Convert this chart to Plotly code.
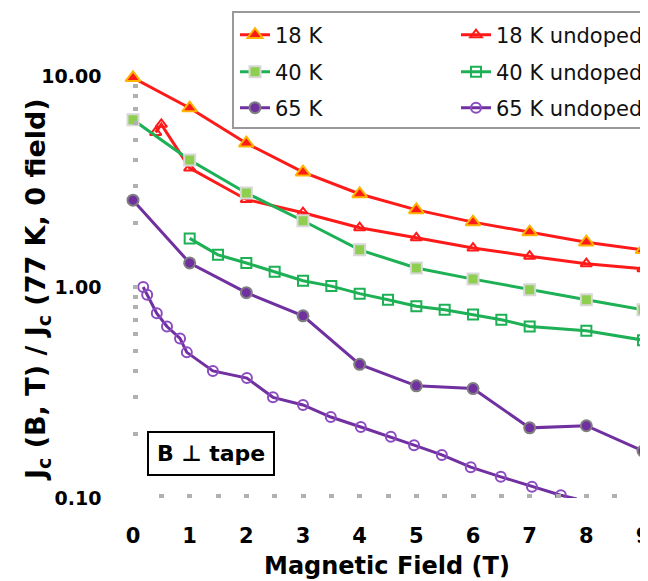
import plotly.graph_objects as go

# ---------------- data ----------------
field_int = [0, 1, 2, 3, 4, 5, 6, 7, 8, 9]

k18 = [9.8, 7.05, 4.8, 3.5, 2.76, 2.32, 2.03, 1.82, 1.63, 1.50]
k40 = [6.2, 4.0, 2.79, 2.06, 1.50, 1.23, 1.09, 0.97, 0.87, 0.78]
k65 = [2.58, 1.30, 0.94, 0.73, 0.43, 0.34, 0.33, 0.215, 0.22, 0.167]

k18u_x = [0.4, 0.5, 1, 2, 3, 4, 5, 6, 7, 8, 9]
k18u_y = [5.4, 5.9, 3.66, 2.6, 2.25, 1.91, 1.71, 1.53, 1.40, 1.29, 1.22]

k40u_x = [1.0, 1.5, 2.0, 2.5, 3.0, 3.5, 4.0, 4.5, 5.0, 5.5, 6.0, 6.5, 7.0, 8.0, 9.0]
k40u_y = [1.70, 1.42, 1.30, 1.18, 1.07, 1.01, 0.93, 0.87, 0.81, 0.78, 0.74, 0.70, 0.65, 0.62, 0.56]

k65u_x = [0.18, 0.25, 0.42, 0.60, 0.83, 0.95, 1.41, 2.01, 2.47, 3.0, 3.49, 4.02,
          4.55, 4.96, 5.45, 5.96, 6.49, 7.04, 7.55, 7.83]
k65u_y = [1.0, 0.92, 0.75, 0.65, 0.57, 0.49, 0.40, 0.37, 0.30, 0.276, 0.242, 0.217,
          0.195, 0.178, 0.160, 0.140, 0.126, 0.113, 0.103, 0.099]

names = ["18 K", "18 K undoped", "40 K", "40 K undoped", "65 K", "65 K undoped"]
x_title = "Magnetic Field (T)"
y_title = "J<sub>c</sub> (B, T) / J<sub>c</sub> (77 K, 0 field)"
box_label = "B \u22a5 tape"

RED = "#FF1A1A"
ORANGE = "#FFB300"
GREEN = "#1DB054"
LGREEN = "#8FCF50"
PURPLE = "#7030A0"
PURPLE_L = "#8A4CC0"
FONT = "DejaVu Sans"

fig = go.Figure()

fig.add_trace(go.Scatter(x=field_int, y=k18, name=names[0], mode="lines+markers",
    line=dict(color=RED, width=3),
    marker=dict(symbol="triangle-up", size=13, color=RED, line=dict(color=ORANGE, width=2)),
    cliponaxis=False, legend="legend"))
fig.add_trace(go.Scatter(x=k18u_x, y=k18u_y, name=names[1], mode="lines+markers",
    line=dict(color=RED, width=3),
    marker=dict(symbol="triangle-up-open", size=10, color=RED, line=dict(width=2)),
    cliponaxis=False, legend="legend"))
fig.add_trace(go.Scatter(x=field_int, y=k40, name=names[2], mode="lines+markers",
    line=dict(color=GREEN, width=3),
    marker=dict(symbol="square", size=11, color=LGREEN, line=dict(color="#D8D8D8", width=2)),
    cliponaxis=False, legend="legend2"))
fig.add_trace(go.Scatter(x=k40u_x, y=k40u_y, name=names[3], mode="lines+markers",
    line=dict(color=GREEN, width=3),
    marker=dict(symbol="square-open", size=10, color=GREEN, line=dict(width=2)),
    cliponaxis=False, legend="legend2"))
fig.add_trace(go.Scatter(x=field_int, y=k65, name=names[4], mode="lines+markers",
    line=dict(color=PURPLE, width=3),
    marker=dict(symbol="circle", size=11, color=PURPLE, line=dict(color="#808080", width=2)),
    cliponaxis=False, legend="legend3"))
fig.add_trace(go.Scatter(x=k65u_x, y=k65u_y, name=names[5], mode="lines+markers",
    line=dict(color=PURPLE, width=3),
    marker=dict(symbol="circle-open", size=10, color=PURPLE_L, line=dict(width=2)),
    cliponaxis=True, legend="legend3"))

# page body has an 8px margin; the figure is sized to fit inside the window
OFF = 8
W, H = 640, 573
ML, MR, MT, MB = 125, 0, 68, 83
pw = W - ML - MR
ph = H - MT - MB


def px_x(p):
    return (p - OFF - ML) / pw


def px_y(p):
    return 1 - (p - OFF - MT) / ph


leg_common = dict(orientation="h", entrywidth=176, entrywidthmode="pixels",
                  bgcolor="rgba(0,0,0,0)", borderwidth=0, xanchor="left", yanchor="middle",
                  x=px_x(235), font=dict(family=FONT, size=21, color="#111"),
                  itemsizing="trace")

fig.update_layout(
    width=W, height=H,
    margin=dict(l=ML, r=MR, t=MT, b=MB, autoexpand=False),
    paper_bgcolor="white", plot_bgcolor="white",
    showlegend=True,
    legend=dict(leg_common, y=px_y(35)),
    legend2=dict(leg_common, y=px_y(72)),
    legend3=dict(leg_common, y=px_y(108)),
    font=dict(family=FONT, color="black"),
    xaxis=dict(range=[0, 9.088], tickmode="linear", tick0=0, dtick=1,
               showline=False, showgrid=False, zeroline=False,
               ticks="inside", ticklen=4, tickwidth=5, tickcolor="#B0B0B0",
               minor=dict(dtick=0.5, ticks="inside", ticklen=4, tickwidth=5, tickcolor="#B0B0B0"),
               tickfont=dict(family=FONT, size=21, color="black", weight="bold"),
               ticklabelstandoff=23, ticklabeloverflow="allow"),
    yaxis=dict(type="log", range=[-1, 1], tickmode="linear", tick0=0, dtick=1,
               tickformat=".2f", ticksuffix="\u00a0",
               showline=False, showgrid=False, zeroline=False,
               ticks="inside", ticklen=5, tickwidth=4, tickcolor="#B0B0B0",
               minor=dict(dtick="D1", ticks="inside", ticklen=5, tickwidth=4, tickcolor="#B0B0B0"),
               tickfont=dict(family=FONT, size=19, color="black", weight="bold"),
               ticklabelstandoff=24, ticklabeloverflow="allow"),
)

# axis titles (paper annotations for exact placement)
fig.add_annotation(xref="paper", yref="paper", x=px_x(387), y=px_y(566),
                   xanchor="center", yanchor="middle", showarrow=False,
                   text=x_title, font=dict(family=FONT, size=24, color="black", weight="bold"))
fig.add_annotation(xref="paper", yref="paper", x=px_x(37), y=px_y(290),
                   xanchor="center", yanchor="middle", showarrow=False, textangle=-90,
                   text=y_title, font=dict(family=FONT, size=27, color="black", weight="bold"))

# legend frame
fig.add_shape(type="rect", xref="paper", yref="paper",
              x0=px_x(233), x1=px_x(700), y0=px_y(128), y1=px_y(12),
              line=dict(color="#999999", width=2), fillcolor="rgba(0,0,0,0)", layer="above")

fig.add_annotation(xref="paper", yref="paper", x=px_x(211), y=px_y(453),
                   xanchor="center", yanchor="middle",
                   text=box_label, showarrow=False,
                   font=dict(family=FONT, size=22, color="black", weight="bold"),
                   bordercolor="black", borderwidth=2, borderpad=8, bgcolor="white")

fig.write_html("out.html")
